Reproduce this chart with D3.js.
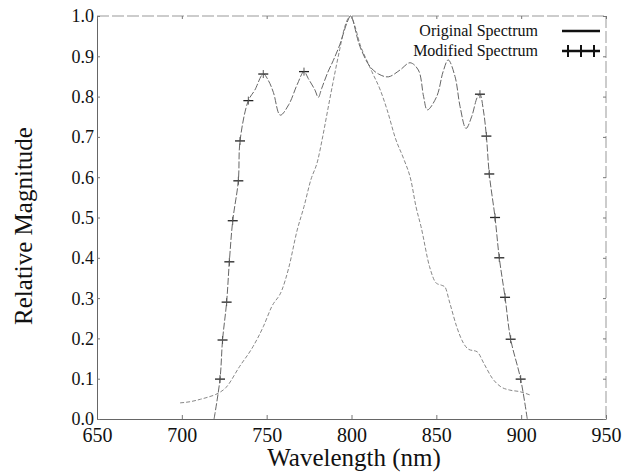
<!DOCTYPE html>
<meta charset="utf-8">
<script src="https://d3js.org/d3.v7.min.js"></script>
<style>
  body { margin: 0; background: #fff; }
  text { font-family: "Liberation Serif", "Times New Roman", serif; fill: #111; }
</style>
<div id="chart"></div>
<script>

// original spectrum (narrow curve)
var origWl  = [699, 705, 711, 716, 720, 726, 734, 742, 748, 753, 759, 763, 768, 772, 776, 780, 783, 786, 789, 793, 796, 799.5, 802, 805, 809, 812, 817, 821, 826, 831, 835, 838, 841, 846, 850, 853, 855, 858, 862, 866, 869, 874, 878, 883, 888, 893, 899, 905];
var origMag = [0.04, 0.043, 0.049, 0.055, 0.061, 0.078, 0.13, 0.18, 0.229, 0.279, 0.32, 0.375, 0.469, 0.527, 0.593, 0.64, 0.70, 0.767, 0.833, 0.916, 0.973, 1.0, 0.975, 0.93, 0.89, 0.862, 0.816, 0.767, 0.695, 0.643, 0.593, 0.527, 0.477, 0.378, 0.337, 0.332, 0.328, 0.287, 0.229, 0.188, 0.173, 0.167, 0.138, 0.101, 0.08, 0.072, 0.068, 0.06];

// modified spectrum (wide curve)
var modWl  = [719, 722.5, 724, 726.4, 728, 730, 733.3, 734.3, 739.2, 743, 748, 751, 754, 758, 763, 768, 772, 774.5, 778.5, 780.4, 782.4, 786, 789.3, 793.2, 797.5, 799.5, 805, 811, 816, 821.7, 828.6, 834.5, 839.4, 842.5, 844.7, 850.2, 854, 857, 861, 864, 867.5, 870.8, 874.1, 875.7, 877.7, 879.5, 881.2, 884.6, 887.1, 890.5, 893.8, 899.7, 903.6];
var modMag = [0, 0.099, 0.196, 0.29, 0.39, 0.492, 0.591, 0.69, 0.79, 0.816, 0.856, 0.84, 0.81, 0.754, 0.78, 0.83, 0.862, 0.845, 0.816, 0.798, 0.82, 0.86, 0.89, 0.93, 0.985, 1.0, 0.924, 0.874, 0.856, 0.849, 0.866, 0.884, 0.866, 0.80, 0.767, 0.80, 0.862, 0.891, 0.85, 0.775, 0.721, 0.75, 0.798, 0.806, 0.767, 0.702, 0.608, 0.50, 0.40, 0.302, 0.198, 0.099, 0.0];

// where the "+" markers sit on the modified curve
var markWl  = [722.5, 724, 726.4, 728, 730, 733.3, 734.3, 739.2, 748, 772, 875.7, 879.5, 881.2, 884.6, 887.1, 890.5, 893.8, 899.7];
var markMag = [0.099, 0.196, 0.29, 0.39, 0.492, 0.591, 0.69, 0.79, 0.856, 0.862, 0.806, 0.702, 0.608, 0.50, 0.40, 0.302, 0.198, 0.099];

var xTicks = [650, 700, 750, 800, 850, 900, 950];
var yTicks = [0, 0.1, 0.2, 0.3, 0.4, 0.5, 0.6, 0.7, 0.8, 0.9, 1.0];
var legendLabels = ["Original Spectrum", "Modified Spectrum"];

var W = 629, H = 476;
var pLeft = 97, pRight = 606, pTop = 16, pBottom = 419;

var svg = d3.select("#chart").append("svg")
  .attr("width", W)
  .attr("height", H);

var x = d3.scaleLinear().domain([650, 950]).range([pLeft, pRight]);
var y = d3.scaleLinear().domain([0, 1]).range([pBottom, pTop]);

// frame (top and right look broken in the scan)
svg.append("line").attr("x1", pLeft).attr("x2", pRight).attr("y1", pTop).attr("y2", pTop)
  .attr("stroke", "#999").attr("stroke-dasharray", "12,3");
svg.append("line").attr("x1", pRight).attr("x2", pRight).attr("y1", pTop).attr("y2", pBottom)
  .attr("stroke", "#999").attr("stroke-dasharray", "12,3");

// axes, ticks pointing inward
var xAxis = svg.append("g")
  .attr("transform", "translate(0," + pBottom + ")")
  .call(d3.axisBottom(x).tickValues(xTicks).tickFormat(d3.format("d"))
    .tickSizeInner(-4).tickSizeOuter(0).tickPadding(9));
var yAxis = svg.append("g")
  .attr("transform", "translate(" + pLeft + ",0)")
  .call(d3.axisLeft(y).tickValues(yTicks).tickFormat(d3.format(".1f"))
    .tickSizeInner(-3).tickSizeOuter(0).tickPadding(3));
svg.append("g")
  .attr("transform", "translate(" + pRight + ",0)")
  .call(d3.axisRight(y).tickValues(yTicks).tickFormat("").tickSizeInner(-3).tickSizeOuter(0))
  .select(".domain").remove();
svg.append("g")
  .attr("transform", "translate(0," + pTop + ")")
  .call(d3.axisTop(x).tickValues(xTicks).tickFormat("").tickSizeInner(-3).tickSizeOuter(0))
  .select(".domain").remove();

svg.selectAll(".domain").attr("stroke", "#666");
svg.selectAll(".tick line").attr("stroke", "#777");
xAxis.selectAll("text").style("font-size", "20px").attr("fill", "#111");
yAxis.selectAll("text").style("font-size", "18px").attr("fill", "#111").attr("dy", "0.33em");

// axis titles
svg.append("text")
  .attr("x", 354).attr("y", 466)
  .attr("text-anchor", "middle")
  .style("font-size", "25px")
  .text("Wavelength (nm)");
svg.append("text")
  .attr("transform", "translate(32,226) rotate(-90)")
  .attr("text-anchor", "middle")
  .style("font-size", "25px")
  .text("Relative Magnitude");

// curves
var line = d3.line()
  .x(function(d) { return x(d[0]); })
  .y(function(d) { return y(d[1]); })
  .curve(d3.curveMonotoneX);

var orig = d3.zip(origWl, origMag);
var mod = d3.zip(modWl, modMag);

svg.append("path")
  .datum(orig)
  .attr("d", line)
  .attr("fill", "none")
  .attr("stroke", "#888")
  .attr("stroke-width", 1)
  .attr("stroke-dasharray", "4,2");

svg.append("path")
  .datum(mod)
  .attr("d", d3.line().x(function(d) { return x(d[0]); }).y(function(d) { return y(d[1]); }).curve(d3.curveCatmullRom))
  .attr("fill", "none")
  .attr("stroke", "#666")
  .attr("stroke-width", 1)
  .attr("stroke-dasharray", "7,2");

// "+" markers
var marks = svg.append("g").selectAll("g")
  .data(d3.zip(markWl, markMag))
  .join("g")
  .attr("transform", function(d) { return "translate(" + x(d[0]) + "," + y(d[1]) + ")"; });
marks.append("line").attr("x1", -5).attr("x2", 5).attr("y1", 0).attr("y2", 0)
  .attr("stroke", "#222").attr("stroke-width", 1.3);
marks.append("line").attr("x1", 0).attr("x2", 0).attr("y1", -4).attr("y2", 4)
  .attr("stroke", "#555").attr("stroke-width", 1);

// legend
var leg = svg.append("g");
leg.selectAll("text")
  .data(legendLabels)
  .join("text")
  .attr("x", 538)
  .attr("y", function(d, i) { return 31 + i * 20; })
  .attr("dy", "0.33em")
  .attr("text-anchor", "end")
  .style("font-size", "16px")
  .text(function(d) { return d; });
leg.append("line").attr("x1", 562).attr("x2", 600).attr("y1", 31).attr("y2", 31)
  .attr("stroke", "#111").attr("stroke-width", 2.5);
leg.append("line").attr("x1", 562).attr("x2", 600).attr("y1", 51).attr("y2", 51)
  .attr("stroke", "#111").attr("stroke-width", 2.5);
leg.selectAll(".plus")
  .data([568, 581, 594])
  .join("line")
  .attr("x1", function(d) { return d; }).attr("x2", function(d) { return d; })
  .attr("y1", 45).attr("y2", 57)
  .attr("stroke", "#111").attr("stroke-width", 2);

</script>
